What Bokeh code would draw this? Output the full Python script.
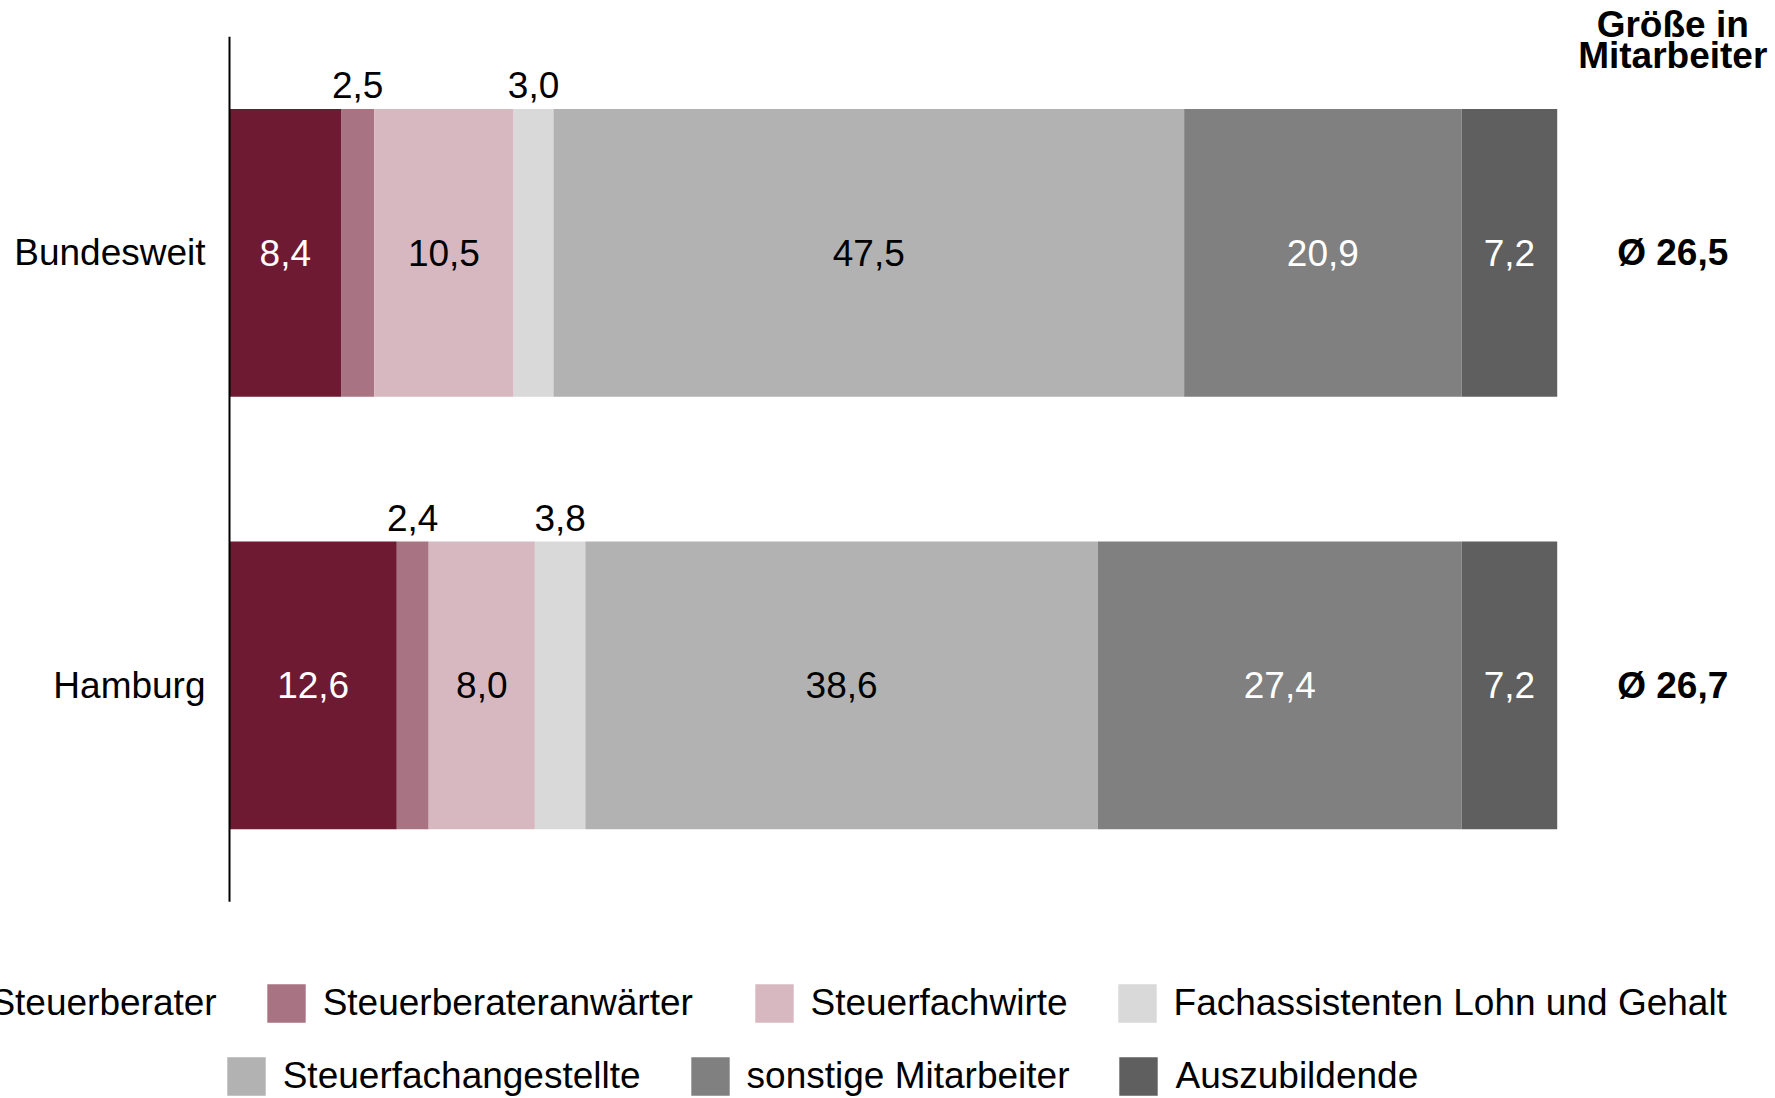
from bokeh.plotting import figure
from bokeh.models import Range1d, ColumnDataSource, Legend, LegendItem
from bokeh.core.properties import value
from bokeh.embed import file_html
from bokeh.resources import INLINE

# ---------------- data ----------------
categories = ["Bundesweit", "Hamburg"]
series = ["Steuerberater", "Steuerberateranwärter", "Steuerfachwirte",
          "Fachassistenten Lohn und Gehalt", "Steuerfachangestellte",
          "sonstige Mitarbeiter", "Auszubildende"]
steuerberater = [8.4, 12.6]
steuerberateranwaerter = [2.5, 2.4]
steuerfachwirte = [10.5, 8.0]
fachassistenten = [3.0, 3.8]
steuerfachangestellte = [47.5, 38.6]
sonstige = [20.9, 27.4]
auszubildende = [7.2, 7.2]
avg_size = [26.5, 26.7]
header_lines = ["Größe in", "Mitarbeiter"]

colors = ["#6E1A32", "#A87382", "#D7B8C1", "#D9D9D9", "#B2B2B2", "#808080", "#5F5F5F"]
label_colors = ["white", "black", "black", "black", "black", "white", "white"]

values = [steuerberater, steuerberateranwaerter, steuerfachwirte, fachassistenten,
          steuerfachangestellte, sonstige, auszubildende]

FONT = "Liberation Sans"
FS = "37px"
BAR_H = 0.665
W, H = 1775, 1098


def fmt(v):
    return f"{v:.1f}".replace(".", ",")


ypos = [len(categories) - 1 - i for i in range(len(categories))]
keys = [f"s{i}" for i in range(len(series))]
data = {"y": ypos}
for k, vals in zip(keys, values):
    data[k] = vals
src = ColumnDataSource(data)

p = figure(width=W, height=H, x_range=Range1d(-17.248, 116.44),
           y_range=Range1d(-0.9551, 1.5836), output_backend="svg",
           toolbar_location=None, x_axis_location=None, y_axis_location=None,
           min_border=0, outline_line_color=None)
p.grid.visible = False
p.background_fill_color = "white"

renderers = p.hbar_stack(keys, y="y", height=BAR_H, fill_color=colors,
                         line_color=None, source=src)

# value labels
in_x, in_y, in_t, in_c = [], [], [], []
out_x, out_y, out_t = [], [], []
for ci in range(len(categories)):
    left = 0.0
    for si, vals in enumerate(values):
        v = vals[ci]
        mid = left + v / 2
        if v >= 5:
            in_x.append(mid); in_y.append(ypos[ci]); in_t.append(fmt(v)); in_c.append(label_colors[si])
        else:
            out_x.append(mid); out_y.append(ypos[ci] + BAR_H / 2); out_t.append(fmt(v))
        left += v

p.text(x=in_x, y=in_y, text=in_t, text_color=in_c, text_font=value(FONT),
       text_font_size=FS, text_align="center", text_baseline="middle")
p.text(x=out_x, y=out_y, text=out_t, text_color="black", text_font=value(FONT),
       text_font_size=FS, text_align="center", text_baseline="middle", y_offset=-24)

# category labels
p.text(x=[0] * len(categories), y=ypos, text=categories, text_color="black",
       text_font=value(FONT), text_font_size=FS, text_align="right",
       text_baseline="middle", x_offset=-24)

# axis line
p.segment(x0=[0], y0=[-0.5], x1=[0], y1=[len(categories) - 0.5],
          line_color="black", line_width=2)

# average size column
COL_X = 108.7
p.text(x=[COL_X] * len(categories), y=ypos, text=["Ø " + fmt(a) for a in avg_size],
       text_color="black", text_font=value(FONT), text_font_size=FS,
       text_font_style="bold", text_align="center", text_baseline="middle")
p.text(x=[COL_X] * 2, y=[len(categories) - 0.5] * 2, text=header_lines,
       y_offset=[-11.8, 18.8], text_color="black", text_font=value(FONT),
       text_font_size=FS, text_font_style="bold", text_align="center",
       text_baseline="middle")

# legends (two rows; first row in two groups to match spacing)
common = dict(orientation="horizontal", label_text_font=FONT, label_text_font_size=FS,
              label_text_color="black", glyph_width=48, glyph_height=48,
              label_height=52, label_standoff=13, spacing=45, padding=0, margin=0,
              border_line_color=None, background_fill_alpha=0)


def make_legend(idx, loc):
    return Legend(items=[LegendItem(label=series[i], renderers=[renderers[i]]) for i in idx],
                  location=loc, **common)


p.add_layout(make_legend([0, 1], (-70.6, 69)))
p.add_layout(make_legend([2, 3], (749.5, 69)))
p.add_layout(make_legend([4, 5, 6], (221.7, -4)))

open("out.html", "w").write(file_html(p, INLINE))
